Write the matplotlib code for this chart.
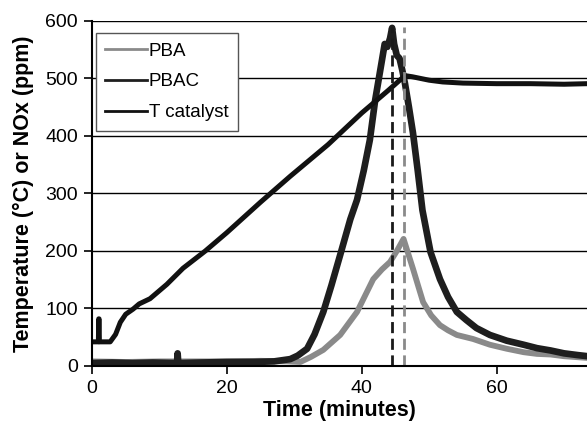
import matplotlib
matplotlib.use("Agg")
import matplotlib.pyplot as plt

plt.rcParams['font.family'] = ['Liberation Sans', 'DejaVu Sans']

# T catalyst (°C)
t_cat = [0, 0.95, 1.0, 1.05, 1.1, 2.7, 3.5, 4.2, 5.0, 6.1, 7.0, 8.6, 11.1, 13.5, 16.8, 20, 25, 29.4, 35, 40, 44, 46.4, 47.5, 50, 52, 55, 60, 65, 70, 73.5]
v_cat = [42, 42, 82, 82, 42, 42, 55, 76, 90, 99, 108, 117, 142, 170, 200, 232, 285, 330, 385, 440, 480, 505, 503, 497, 494, 492, 491, 491, 490, 491]

# PBAC NOx (ppm)
t_pbac = [0, 3, 6, 9, 12.6, 12.7, 12.8, 16, 20, 24, 27, 29.4, 30.5, 31.9, 33, 34.3, 35.5, 36.8, 38.3, 39.3, 40.3, 41.2, 42, 43, 43.4, 43.8, 44.2, 44.5, 44.8, 45.2, 45.6, 46.0, 46.4, 47.0, 47.6, 48.3, 49, 50.2, 51.6, 52.8, 54.1, 55.5, 57, 59, 61.5, 64, 66, 68, 70, 72, 73.5]
v_pbac = [5, 6, 5, 6, 5, 22, 5, 6, 7, 7, 8, 12, 18, 30, 55, 94, 140, 193, 255, 289, 340, 393, 463, 532, 560, 555, 570, 588, 560, 540, 535, 515, 492, 450, 405, 340, 271, 198, 151, 120, 94, 80, 66, 54, 44, 37, 31, 27, 22, 19, 17]

# PBA NOx (ppm)
t_pba = [0, 5, 10, 15, 20, 25, 29, 30.9, 32.5, 34.3, 36.8, 39.3, 41.7, 43, 44.2, 45.2, 46.2, 46.9, 47.6, 48.4, 49.1, 50.3, 51.6, 52.8, 54.1, 56.5, 59, 61.5, 64, 66, 68, 70, 73.5]
v_pba = [8, 7, 8, 8, 8, 9, 8, 7, 16, 28, 54, 94, 151, 168, 181, 200, 221, 195, 169, 138, 111, 88, 71, 62, 54, 47, 37, 30, 24, 21, 20, 17, 14]

# Vertical dashed markers (minutes)
peak_pbac = 44.5
peak_pba = 46.3

fig = plt.figure(figsize=(5.87, 4.24), dpi=100)
ax = fig.add_axes([0.1567, 0.1368, 0.8433, 0.8137])

ax.plot(t_pba, v_pba, color='#8a8a8a', lw=4.2, label='PBA', solid_joinstyle='round')
ax.plot(t_pbac, v_pbac, color='#1e1e1e', lw=4.8, label='PBAC', solid_joinstyle='round')
ax.plot(t_cat, v_cat, color='#111111', lw=3.6, label='T catalyst', solid_joinstyle='round')

ax.plot([peak_pbac, peak_pbac], [0, 590], color='#1a1a1a', lw=2, dashes=(4, 2))
ax.plot([peak_pba, peak_pba], [0, 590], color='#8a8a8a', lw=2, dashes=(4, 2))

ax.set_xlim(0, 73.4)
ax.set_ylim(0, 600)
ax.set_xticks([0, 20, 40, 60])
ax.set_yticks([0, 100, 200, 300, 400, 500, 600])
ax.yaxis.grid(True, color='black', lw=1)
ax.set_axisbelow(True)
for s in ['top', 'right']:
    ax.spines[s].set_visible(False)
ax.spines['left'].set_linewidth(1.5)
ax.spines['bottom'].set_linewidth(1.5)
ax.tick_params(axis='both', direction='out', length=6, width=1.2, labelsize=14, pad=4)

ax.set_xlabel('Time (minutes)', fontsize=15.5, fontweight='bold', labelpad=2)
ax.set_ylabel('Temperature (°C) or NOx (ppm)', fontsize=15.5, fontweight='bold', labelpad=8)

leg = ax.legend(loc='upper left', bbox_to_anchor=(0.008, 0.965), fontsize=13.5,
                frameon=True, fancybox=False, edgecolor='#555555', framealpha=1,
                handlelength=2.2, labelspacing=0.73, borderpad=0.5, handletextpad=0.12,
                borderaxespad=0)
for line in leg.get_lines():
    line.set_linewidth(2)
leg.get_frame().set_linewidth(1)

fig.savefig('out.png', dpi=100)
